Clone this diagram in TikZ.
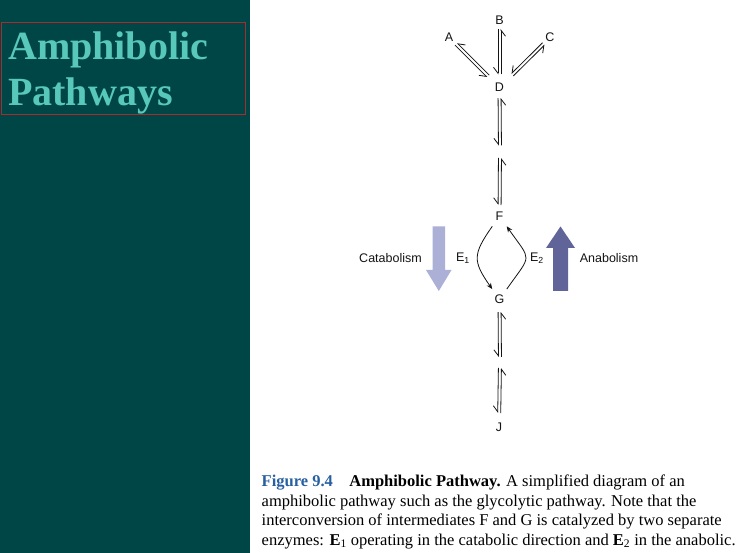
\documentclass[tikz,border=0pt]{standalone}
\usepackage{fontspec}
\setmainfont{Liberation Serif}
\setsansfont{Liberation Sans}
\usetikzlibrary{arrows.meta,calc}
\definecolor{panel}{RGB}{0,70,70}
\definecolor{titletext}{RGB}{88,200,186}
\definecolor{boxred}{RGB}{165,45,45}
\definecolor{catab}{RGB}{172,176,214}
\definecolor{anab}{RGB}{96,100,152}
\definecolor{figblue}{RGB}{38,96,160}
\definecolor{ink}{RGB}{20,20,20}
\newcommand{\eqarrow}[4]{%
    \draw [half, shorten <=#3, shorten >=#4] ($(#1)!1.5pt!-90:(#2)$) -- ($(#2)!1.5pt!90:(#1)$);
    \draw [half, shorten <=#4, shorten >=#3] ($(#2)!1.5pt!-90:(#1)$) -- ($(#1)!1.5pt!90:(#2)$);
}
\begin{document}
\begin{tikzpicture}[x=1pt, y=1pt,
        letter/.style={font=\sffamily\fontsize{12.5}{12.5}\selectfont, text=ink, inner sep=3pt, outer sep=3pt},
        side/.style={font=\sffamily\fontsize{12.5}{12.5}\selectfont, text=ink, inner sep=0pt},
        half/.style={ink, line width=0.8pt, -{Straight Barb[right, length=6pt, width=9pt]}},
        enzarc/.style={ink, line width=0.8pt, -{Stealth[length=6pt, width=5pt]}},
        title/.style={anchor=north west, inner sep=0pt, align=left, text=titletext, font=\bfseries\fontsize{40}{46}\selectfont},
        caption/.style={anchor=north west, inner sep=0pt, align=left, font=\fontsize{16.5}{19.5}\selectfont}]
        \useasboundingbox (0,0) rectangle (737,-553);
        \fill [white] (250,0) rectangle (737,-553);
        \fill [panel] (0,0) rectangle (250,-553);
        \draw [boxred, line width=1pt] (1,-22.5) rectangle (245,-115);
        \node [title] (ttl) at (8,-31.5) {Amphibolic\\Pathways};
        \node [letter] (B) at (499.5,-20) {B};
        \node [letter] (A) at (449,-37) {A};
        \node [letter] (C) at (550,-37.5) {C};
        \node [letter] (D) at (499.5,-87.5) {D};
        \coordinate (DF) at (500,-151.5);
        \node [letter] (F) at (499.5,-216) {F};
        \node [letter] (G) at (499.5,-299.5) {G};
        \coordinate (GJ) at (500,-362.5);
        \node [letter] (J) at (499,-427) {J};
        \eqarrow{B}{D}{9pt}{13pt}
        \eqarrow{A}{D}{10pt}{16pt}
        \eqarrow{C}{D}{9pt}{18pt}
        \eqarrow{D}{DF}{10.5pt}{6pt}
        \eqarrow{DF}{F}{6.5pt}{11pt}
        \eqarrow{G}{GJ}{12.5pt}{5.5pt}
        \eqarrow{GJ}{J}{5.5pt}{14pt}
        \draw [enzarc] (F) to [out=235, in=125, looseness=1.4] (G);
        \draw [enzarc] (G) to [out=55, in=305, looseness=1.8] (F);
        \fill [catab] (432.5,-226.5) -- (445,-226.5) -- (445,-270) -- (451.5,-270) -- (438.8,-291) -- (426,-270) -- (432.5,-270) -- cycle;
        \fill [anab] (553,-291) -- (568,-291) -- (568,-248) -- (575,-248) -- (560.5,-226.5) -- (546,-248) -- (553,-248) -- cycle;
        \node [side] (cat) at (390.5,-258) {Catabolism};
        \node [side] (e1) at (463,-258) {E\textsubscript{1}};
        \node [side] (e2) at (537,-258) {E\textsubscript{2}};
        \node [side] (ana) at (609,-258) {Anabolism};
        \node [caption] (cap) at (261.5,-474.7) {\textbf{\color{figblue}Figure 9.4}\hspace{1em}\textbf{Amphibolic Pathway.} A simplified diagram of an\\
            amphibolic pathway such as the glycolytic pathway. Note that the\\
            interconversion of intermediates F and G is catalyzed by two separate\\
            enzymes: \textbf{E}\textsubscript{1} operating in the catabolic direction and \textbf{E}\textsubscript{2} in the anabolic.};
    \end{tikzpicture}
\end{document}
